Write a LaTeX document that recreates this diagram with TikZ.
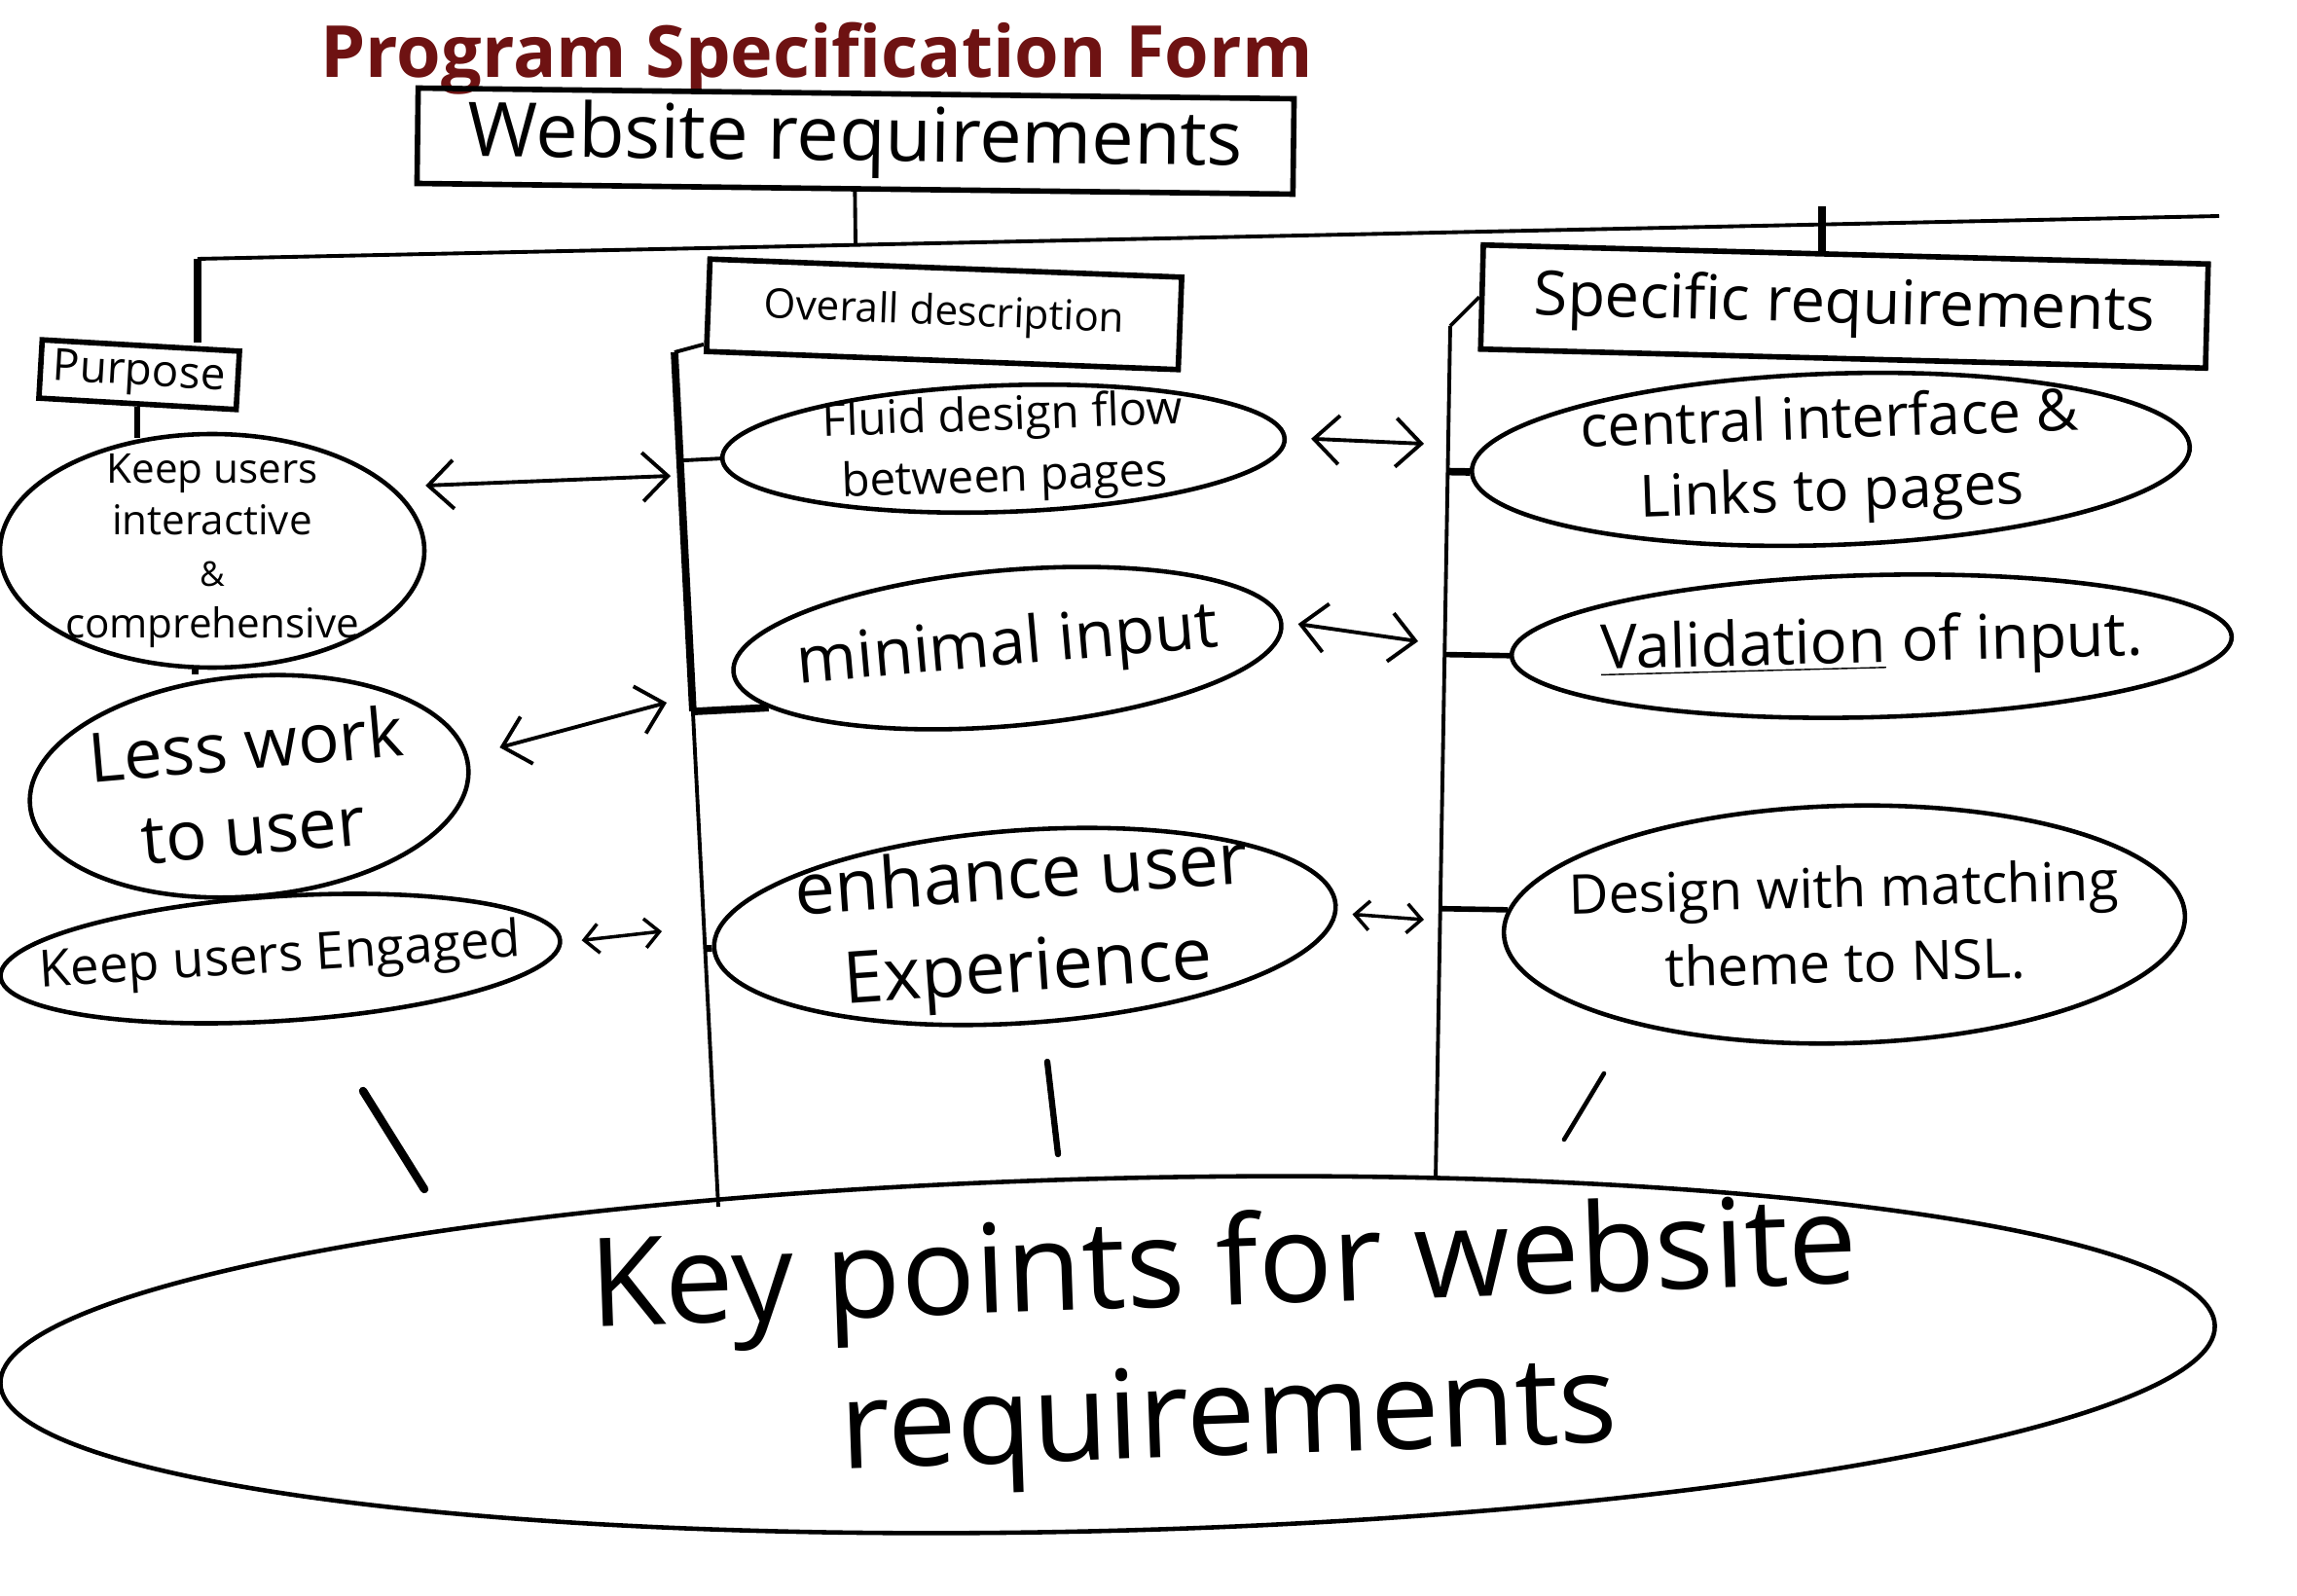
\documentclass[tikz,border=0pt]{standalone}
\usepackage{fontspec}
\setmainfont{Open Sans}
\usetikzlibrary{arrows.meta,shapes.geometric,calc}
\definecolor{titlered}{HTML}{6E1212}
\newcommand{\fsz}[2]{\fontsize{#1}{#2}\selectfont}
\tikzset{
  reqbox/.style={draw, line width=1.6pt, inner sep=0pt, align=center},
  reqoval/.style={draw, ellipse, line width=1.3pt, inner xsep=-3cm, inner ysep=-1.5cm, align=center},
  reqarr/.style={{Straight Barb[length=2.6mm,width=5mm]}-{Straight Barb[length=2.6mm,width=5mm]}, line width=1.1pt},
  reqarrs/.style={{Straight Barb[length=1.5mm,width=3mm]}-{Straight Barb[length=1.5mm,width=3mm]}, line width=1pt},
  reqline/.style={line width=1.1pt},
}

\begin{document}
\begin{tikzpicture}[
  titletxt/.style={font=\fsz{21pt}{24pt}\bfseries, text=titlered},
]
  \useasboundingbox (0,0) rectangle (23.6,-16.4);

  % Headings
  \node[titletxt] (title) at (8.39,-0.6) {Program Specification Form};
  \node[reqbox, rotate=-0.7, minimum width=9.0cm, minimum height=0.98cm, font=\fsz{22pt}{24pt}] (web) at (8.79,-1.45) {Website requirements};
  \node[reqbox, rotate=-3.3, minimum width=2.03cm, minimum height=0.6cm, font=\fsz{13pt}{15pt}] (purp) at (1.43,-3.85) {Purpose};
  \node[reqbox, rotate=-2.2, minimum width=4.85cm, minimum height=0.95cm, font=\fsz{12pt}{14pt}] (ovr) at (9.70,-3.23) {Overall description};
  \node[reqbox, rotate=-1.5, minimum width=7.45cm, minimum height=1.07cm, font=\fsz{18pt}{20pt}] (spec) at (18.95,-3.15) {Specific requirements};

  % Bus
  \coordinate (busL) at (2.03,-2.66);
  \coordinate (busR) at (22.8,-2.22);
  \coordinate (busM) at (8.79,-2.52);
  \coordinate (specT) at (18.72,-2.12);
  \draw[reqline] (busL) -- (busR);
  \draw[reqline] (web.south) -- (busM);
  \draw[line width=2pt] (busL) -- (busL |- purp.north);
  \draw[line width=2pt] (specT) -- (specT |- spec.north);

  % Left column
  \node[reqoval, minimum width=4.36cm, minimum height=2.4cm, font=\fsz{12pt}{15pt}] (keepi) at (2.18,-5.66) {Keep users\\interactive\\{\fsz{10pt}{10pt}\&}\\comprehensive};
  \node[reqoval, rotate=5, minimum width=4.52cm, minimum height=2.26cm, font=\fsz{20pt}{25pt}] (less) at (2.56,-8.08) {Less work\\to user};
  \node[reqoval, rotate=3.7, minimum width=5.76cm, minimum height=1.28cm, font=\fsz{15pt}{18pt}] (engd) at (2.88,-9.85) {Keep users Engaged};

  % Middle column
  \node[reqoval, rotate=2, minimum width=5.78cm, minimum height=1.3cm, font=\fsz{13.5pt}{18pt}] (fluid) at (10.31,-4.61) {Fluid design flow\\between pages};
  \node[reqoval, rotate=5, minimum width=5.65cm, minimum height=1.6cm, font=\fsz{19pt}{21pt}] (minin) at (10.35,-6.66) {minimal input};
  \node[reqoval, rotate=4, minimum width=6.4cm, minimum height=1.98cm, font=\fsz{21pt}{27pt}] (enh) at (10.53,-9.52) {enhance user\\Experience};

  % Right column
  \node[reqoval, rotate=2, minimum width=7.38cm, minimum height=1.76cm, font=\fsz{17pt}{21pt}] (cent) at (18.81,-4.72) {central interface \&\\Links to pages};
  \node[reqoval, rotate=1.5, minimum width=7.4cm, minimum height=1.46cm, font=\fsz{18pt}{20pt}] (valid) at (19.23,-6.64) {\underline{Validation} of input.};
  \node[reqoval, rotate=1.5, minimum width=7.0cm, minimum height=2.44cm, font=\fsz{16pt}{22pt}] (dsgn) at (18.95,-9.5) {Design with matching\\theme to NSL.};

  % Summary
  \node[reqoval, rotate=1.5, minimum width=22.76cm, minimum height=3.62cm] (key) at (11.38,-13.92) {};
  \node[font=\fsz{36pt}{44pt}, align=center, rotate=2] (keytxt) at (12.6,-13.85) {Key points for website\\requirements};

  % Column lines
  \coordinate (ovrtop) at (6.93,-3.62);
  \coordinate (ovrbot) at (7.38,-12.4);
  \coordinate (spectop) at (14.9,-3.35);
  \coordinate (specbot) at (14.75,-12.12);
  \draw[reqline] (ovrtop) -- (ovrbot);
  \draw[line width=2.2pt] (ovrtop) -- ($(ovrtop)!0.42!(ovrbot)$);
  \draw[reqline] (ovrtop) -- ([yshift=1mm]ovr.south west);
  \draw[reqline] (spectop) -- (specbot);
  \draw[reqline] (spectop) -- (spec.west);

  % Stubs to the ovals
  \draw[line width=1.6pt] (purp.south) -- (purp.south |- keepi.120);
  \draw[line width=2pt] (keepi.262) -- (keepi.262 |- less.north);
  \draw[reqline] (fluid.west) -- ($(ovrtop)!(fluid.west)!(ovrbot)$);
  \draw[line width=2.2pt] (minin.189) -- ($(ovrtop)!(minin.189)!(ovrbot)$);
  \draw[line width=2pt] (enh.west) -- ($(ovrtop)!(enh.west)!(ovrbot)$);
  \draw[line width=2.2pt] (cent.west) -- ($(spectop)!(cent.west)!(specbot)$);
  \draw[line width=1.6pt] (valid.west) -- ($(spectop)!(valid.west)!(specbot)$);
  \draw[line width=1.6pt] (dsgn.176) -- ($(spectop)!(dsgn.176)!(specbot)$);

  % Two-way arrows
  \coordinate (a1) at (6.89,-4.89);
  \coordinate (a2) at (6.85,-7.22);
  \coordinate (a3) at (6.80,-9.57);
  \coordinate (a4) at (14.63,-4.56);
  \coordinate (a5) at (14.57,-6.59);
  \coordinate (a6) at (14.63,-9.45);
  \draw[reqarr] ([xshift=3.5mm]keepi.20) -- (a1);
  \draw[reqarr] ([xshift=3mm,yshift=2mm]less.east) -- (a2);
  \draw[reqarrs] ([xshift=2mm]engd.east) -- (a3);
  \draw[reqarr] ([xshift=2.5mm]fluid.east) -- (a4);
  \draw[reqarr] ([xshift=1.5mm]minin.east) -- (a5);
  \draw[reqarrs] ([xshift=1.5mm,yshift=-1mm]enh.east) -- (a6);

  % Strokes above the summary
  \draw[line width=2.4pt, line cap=round] (3.73,-11.21) -- (4.36,-12.22);
  \draw[line width=1.8pt, line cap=round] (10.76,-10.91) -- (10.87,-11.86);
  \draw[line width=1.3pt, line cap=round] (16.48,-11.03) -- (16.07,-11.71);
\end{tikzpicture}
\end{document}
